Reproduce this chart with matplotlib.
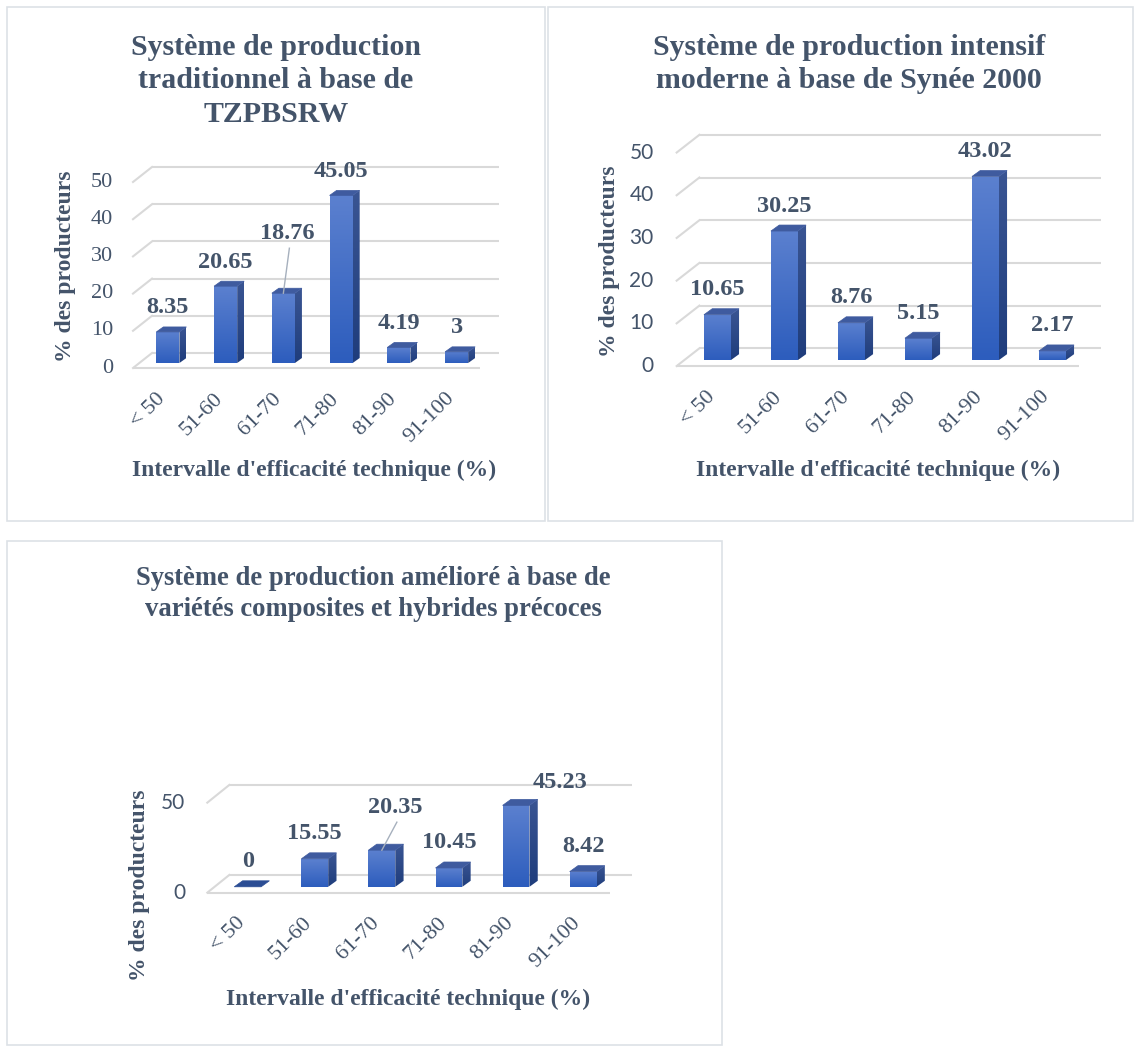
import numpy as np
import matplotlib
matplotlib.use('Agg')
import matplotlib.pyplot as plt
from matplotlib.patches import Polygon, Rectangle
from matplotlib.colors import LinearSegmentedColormap

# ---------------- data ----------------
categories = ['< 50', '51-60', '61-70', '71-80', '81-90', '91-100']
trad_values = [8.35, 20.65, 18.76, 45.05, 4.19, 3]
intensif_values = [10.65, 30.25, 8.76, 5.15, 43.02, 2.17]
ameliore_values = [0, 15.55, 20.35, 10.45, 45.23, 8.42]
trad_ticks = [0, 10, 20, 30, 40, 50]
intensif_ticks = [0, 10, 20, 30, 40, 50]
ameliore_ticks = [0, 50]
titles = ["Système de production\ntraditionnel à base de\nTZPBSRW",
          "Système de production intensif\nmoderne à base de Synée 2000",
          "Système de production amélioré à base de\nvariétés composites et hybrides précoces"]
ylabel = '% des producteurs'
xlabel = "Intervalle d'efficacité technique (%)"

# ---------------- style ----------------
W, H = 1135, 1048
SERIF = 'Liberation Serif'
SANS = 'Lato'
TXT = '#44546A'
GRID = '#d9d9d9'
front_cmap = LinearSegmentedColormap.from_list('f', ['#2d5dbd', '#5b80cf'])
side_cmap = LinearSegmentedColormap.from_list('s', ['#1f3d7c', '#3a5593'])
TOP = '#3f5b9f'

fig = plt.figure(figsize=(W / 100, H / 100), dpi=100)

# panel frames (pixels: x0, y0, x1, y1)
frames = [(7, 7, 545, 521), (548, 7, 1133, 521), (7, 541, 722, 1045)]
for (x0, y0, x1, y1) in frames:
    fig.patches.append(Rectangle((x0 / W, 1 - y1 / H), (x1 - x0) / W, (y1 - y0) / H,
                                 transform=fig.transFigure, fill=False,
                                 edgecolor='#dde1e6', lw=1.2))

panels = [
    dict(values=trad_values, ticks=trad_ticks, tickfont=SERIF, tick_size=16,
         geom=(142.5, 489.0, 360.5, 3.72), floor=(19.0, 15.0), bar=(7.0, 5.0), gap=20,
         title=titles[0], title_size=21.5, title_xy=(276, 34), ylab_xy=(66, 266),
         xlab_xy=(314, 470), special={2: (4, 55, True)}),
    dict(values=intensif_values, ticks=intensif_ticks, tickfont=SANS, tick_size=15,
         geom=(688.0, 1090.0, 357.2, 4.27), floor=(22.7, 17.7), bar=(8.3, 6.0), gap=23,
         title=titles[1], title_size=21.5, title_xy=(849, 34), ylab_xy=(609, 261),
         xlab_xy=(878, 470), special={}),
    dict(values=ameliore_values, ticks=ameliore_ticks, tickfont=SANS, tick_size=15,
         geom=(218.3, 620.8, 883.8, 1.8), floor=(22.0, 17.7), bar=(8.3, 6.0), gap=22,
         title=titles[2], title_size=19.2, title_xy=(373, 566), ylab_xy=(140, 885),
         xlab_xy=(408, 999), special={2: (13, 37, True), 4: (44, 17, False)}),
]

grad = np.linspace(0, 1, 64).reshape(-1, 1)
BW = 0.4

for p in panels:
    xl, xr, y0, scale = p['geom']
    ppx = (xr - xl) / 6.0
    ppy = scale
    padx, pad_lo, pad_hi = 0.5, 25.0, 25.0
    left_px = xl - padx * ppx
    right_px = xr + padx * ppx
    bot_px = y0 + pad_lo
    top_px = y0 - 50 * scale - pad_hi
    ax = fig.add_axes([left_px / W, 1 - bot_px / H, (right_px - left_px) / W, (bot_px - top_px) / H])
    ax.axis('off')

    fdx, fdy = p['floor'][0] / ppx, p['floor'][1] / ppy
    bdx, bdy = p['bar'][0] / ppx, p['bar'][1] / ppy

    # walls / gridlines
    for t in p['ticks']:
        ax.plot([-0.5 + fdx / 2, 5.5 + fdx / 2], [t + fdy / 2] * 2, color=GRID, lw=1.5, zorder=1,
                solid_capstyle='butt')
        ax.plot([-0.5 - fdx / 2, -0.5 + fdx / 2], [t - fdy / 2, t + fdy / 2], color=GRID, lw=1.5,
                zorder=1)
        ax.text(-0.5 - fdx / 2 - p['gap'] / ppx, t - fdy / 2, str(t), ha='right', va='center',
                fontsize=p['tick_size'], family=p['tickfont'], color=TXT)
    ax.plot([-0.5 - fdx / 2, 5.5 - fdx / 2], [-fdy / 2] * 2, color=GRID, lw=1.5, zorder=1,
            solid_capstyle='butt')

    # bars
    for i, v in enumerate(p['values']):
        x0 = i - BW / 2 - bdx / 2
        x1 = i + BW / 2 - bdx / 2
        yb = -bdy / 2
        yt = v - bdy / 2
        if v > 0:
            front = Polygon([(x0, yb), (x1, yb), (x1, yt), (x0, yt)], closed=True,
                            facecolor='none', edgecolor='none')
            ax.add_patch(front)
            im = ax.imshow(grad, extent=(x0, x1, yb, yt), origin='lower', cmap=front_cmap,
                           aspect='auto', zorder=3, interpolation='bilinear')
            im.set_clip_path(front)
            side = Polygon([(x1, yb), (x1 + bdx, yb + bdy), (x1 + bdx, yt + bdy), (x1, yt)],
                           closed=True, facecolor='none', edgecolor='none')
            ax.add_patch(side)
            im2 = ax.imshow(grad, extent=(x1, x1 + bdx, yb, yt + bdy), origin='lower',
                            cmap=side_cmap, aspect='auto', zorder=3, interpolation='bilinear')
            im2.set_clip_path(side)
        topc = TOP if v > 0 else '#2b4d94'
        ax.add_patch(Polygon([(x0, yt), (x1, yt), (x1 + bdx, yt + bdy), (x0 + bdx, yt + bdy)],
                             closed=True, facecolor=topc, edgecolor=topc, lw=0.5, zorder=4))

        # value label
        cx = i - bdx / 2
        dxp, dyp, leader = p['special'].get(i, (0, 19, False))
        lx = cx + dxp / ppx
        ly = v + bdy / 2 + dyp / ppy
        lab = ('%g' % v)
        ax.text(lx, ly, lab, ha='center', va='center', fontsize=17.5, fontweight='bold',
                family=SERIF, color=TXT, zorder=6)
        if leader:
            ax.plot([lx + 2 / ppx, cx], [ly - 15 / ppy, yt], color='#a6b0bd', lw=1.0, zorder=5)

        # category label
        ax.text(cx - 12 / ppx, -fdy / 2 - 21 / ppy, categories[i], rotation=45,
                rotation_mode='anchor', ha='right', va='top', fontsize=16, family=SERIF,
                color=TXT)

    ax.set_xlim(-0.5 - padx, 5.5 + padx)
    ax.set_ylim(-pad_lo / ppy, 50 + pad_hi / ppy)

    # titles and axis labels
    tx, ty = p['title_xy']
    fig.text(tx / W, 1 - ty / H, p['title'], ha='center', va='top', fontsize=p['title_size'],
             fontweight='bold', family=SERIF, color=TXT, linespacing=1.3)
    yx, yy = p['ylab_xy']
    fig.text(yx / W, 1 - yy / H, ylabel, rotation=90, ha='center', va='center', fontsize=17,
             fontweight='bold', family=SERIF, color=TXT)
    xx, xy = p['xlab_xy']
    fig.text(xx / W, 1 - xy / H, xlabel, ha='center', va='center', fontsize=17,
             fontweight='bold', family=SERIF, color=TXT)

fig.savefig('out.png', dpi=100, facecolor='white')
